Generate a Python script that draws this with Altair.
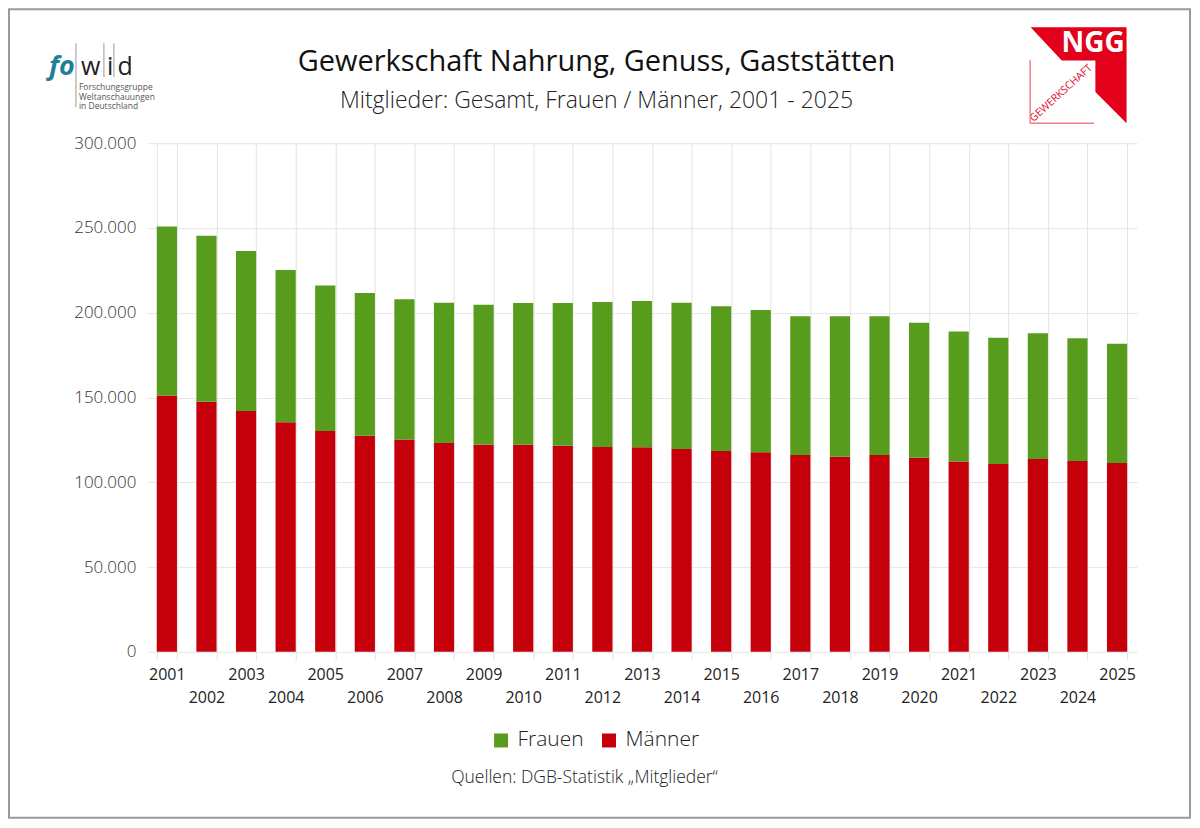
"""NGG Mitglieder 2001-2025, gestapelte Säulen Männer / Frauen."""

import altair as alt
import pandas as pd

FONT = "Open Sans"
GREEN = "#589c1e"
RED = "#c5000b"
NGG_RED = "#e2001a"

years = list(range(2001, 2026))
maenner = [151000, 147500, 142000, 135400, 130300, 127500, 125200, 123200, 122200, 122200,
           121600, 120800, 120700, 119700, 118500, 117700, 116100, 115100, 116100, 114400,
           112200, 110800, 113700, 112600, 111400]
frauen = [99900, 97900, 94500, 89800, 85800, 84100, 82700, 82700, 82500, 83500,
          84100, 85500, 86200, 86200, 85400, 83900, 81800, 82900, 81800, 79700,
          76800, 74500, 74200, 72300, 70300]
groups = ["Frauen", "Männer"]
fowid_lines = ["Forschungsgruppe", "Weltanschauungen", "in Deutschland"]

df = pd.concat([
    pd.DataFrame({"jahr": years, "gruppe": "Männer", "mitglieder": maenner, "ord": 0}),
    pd.DataFrame({"jahr": years, "gruppe": "Frauen", "mitglieder": frauen, "ord": 1}),
])

W, H = 991, 509

bars = alt.Chart(df).mark_bar().encode(
    x=alt.X(
        "jahr:O",
        title=None,
        scale=alt.Scale(paddingInner=0.49, paddingOuter=0.25),
        axis=alt.Axis(
            labelAngle=0, grid=True, tickBand="extent", gridColor="#e3e3e3",
            ticks=True, tickSize=8, tickColor="#e3e3e3", domain=False,
            labelFont=FONT, labelFontSize=16, labelColor="#222", labelPadding=7,
            labelOverlap=False, labelLineHeight=23, labelBaseline="top",
            labelExpr="datum.value % 2 == 1 ? datum.label : ['', datum.label]",
        ),
    ),
    y=alt.Y(
        "mitglieder:Q",
        stack="zero",
        title=None,
        scale=alt.Scale(domain=[0, 300000]),
        axis=alt.Axis(
            values=[0, 50000, 100000, 150000, 200000, 250000, 300000],
            gridColor="#e6e6e6", ticks=False, domain=False,
            labelFont=FONT, labelFontSize=17, labelFontWeight=300, labelColor="#333",
            labelPadding=11,
            labelExpr="replace(format(datum.value, ','), ',', '.')",
        ),
    ),
    color=alt.Color(
        "gruppe:N",
        scale=alt.Scale(domain=groups, range=[GREEN, RED]),
        legend=alt.Legend(
            title=None, orient="none", direction="horizontal", legendX=344, legendY=587,
            symbolType="square", symbolSize=196, symbolStrokeWidth=0, labelFont=FONT,
            labelFontSize=21, labelFontWeight=300, labelColor="#222", labelOffset=6,
            columnPadding=14, padding=0,
        ),
    ),
    order=alt.Order("ord:Q"),
)


def text_layer(text, x, y, size, weight=300, color="#222", align="center", **kw):
    return alt.Chart(pd.DataFrame({"t": [0]})).mark_text(
        text=text, font=FONT, fontSize=size, fontWeight=weight, color=color,
        align=align, baseline="middle", **kw
    ).encode(x=alt.value(x), y=alt.value(y))


def line_layer(x, x2, y, y2, color, width=1.0):
    return alt.Chart(pd.DataFrame({"t": [0]})).mark_rule(
        color=color, strokeWidth=width
    ).encode(x=alt.value(x), x2=alt.value(x2), y=alt.value(y), y2=alt.value(y2))


title = text_layer("Gewerkschaft Nahrung, Genuss, Gaststätten", 450, -81, 29, weight=400, color="#111")
subtitle = text_layer("Mitglieder: Gesamt, Frauen / Männer, 2001 - 2025", 450, -42, 23)
source = text_layer("Quellen: DGB-Statistik „Mitglieder“", 438, 635, 17.5)

frame = alt.Chart(pd.DataFrame({"t": [0]})).mark_rect(
    filled=False, stroke="#9a9a9a", strokeWidth=2
).encode(x=alt.value(-138), x2=alt.value(1044), y=alt.value(-134), y2=alt.value(675))

# fowid-Logo
fowid = [
    text_layer("fo", -98, -76, 27, weight=700, color="#1f7f94", align="left", fontStyle="italic"),
    text_layer("w", -66, -76, 25, weight=500, color="#222", align="left"),
    text_layer("i", -40, -76, 25, weight=500, color="#222", align="left"),
    text_layer("d", -29.5, -76, 25, weight=500, color="#222", align="left"),
    line_layer(-71, -71, -100, -36, "#999"),
    line_layer(-43, -43, -100, -66, "#999"),
    line_layer(-33, -33, -100, -66, "#999"),
] + [
    text_layer(t, -68, -56 + 9.5 * i, 8.5, weight=400, color="#555", align="left")
    for i, t in enumerate(fowid_lines)
]

# NGG-Logo
ngg_path = "M-1,-1L1,-1L1,1L0.35,0.35L0.35,-0.31L-0.35,-0.31Z"
ngg = [
    alt.Chart(pd.DataFrame({"t": [0]})).mark_point(
        shape=ngg_path, filled=True, size=9216, color=NGG_RED, opacity=1, strokeWidth=0
    ).encode(x=alt.value(932.5), y=alt.value(-68)),
    text_layer("NGG", 947, -99, 28, weight=700, color="white"),
    text_layer("GEWERKSCHAFT", 915, -50, 10.5, weight=400, color=NGG_RED, angle=318),
    line_layer(884, 884, -83, -20, "#ec7f88", 1.5),
    line_layer(884, 948, -20, -20, "#ec7f88", 1.5),
]

chart = alt.layer(
    bars, title, subtitle, source, frame, *fowid, *ngg
).properties(
    width=W, height=H,
    autosize=alt.AutoSizeParams(type="none"),
    padding={"left": 139, "top": 135, "right": 55, "bottom": 168},
).configure_view(stroke=None)

chart.save("out.html", embed_options={"renderer": "svg", "actions": False})
